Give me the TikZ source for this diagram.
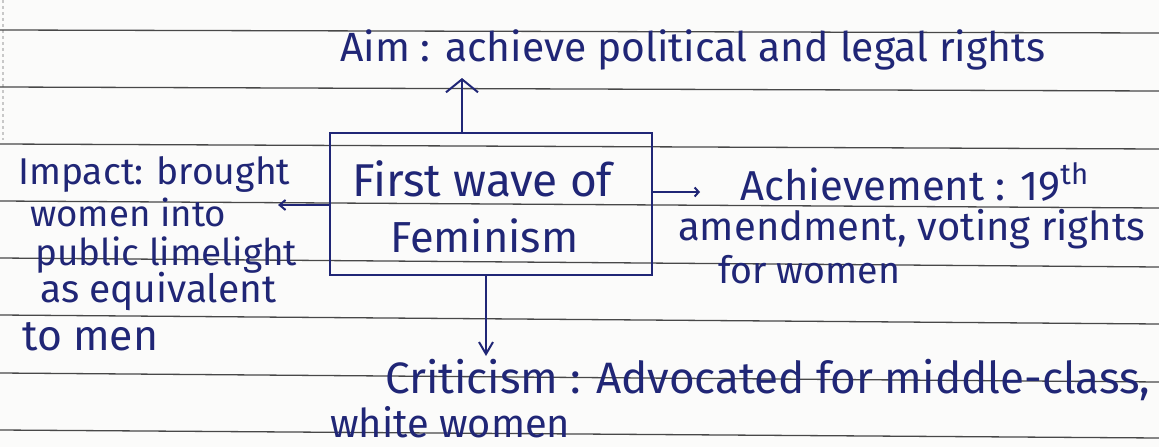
\documentclass[tikz,border=0pt]{standalone}
\usepackage{fontspec}
\usepackage{graphicx}
\setmainfont{Fira Sans}
\usetikzlibrary{arrows.meta}

\definecolor{ink}{RGB}{32,38,118}
\definecolor{rule}{RGB}{72,72,72}
\definecolor{paper}{RGB}{251,251,250}
\definecolor{edge}{RGB}{200,200,200}

% a line of notes stretched to a given width (in pt), keeping its proportions
\newcommand{\hw}[2]{\resizebox{#1pt}{!}{#2}}

\tikzset{
  ruleline/.style={rule, line width=1.3pt},
  note/.style={ink, inner sep=0pt, anchor=base west},
  topicbox/.style={draw=ink, line width=2.6pt, inner sep=0pt,
    minimum width=322pt, minimum height=142pt},
  link/.style={ink, line width=2.2pt},
}

\begin{document}
\begin{tikzpicture}[x=1pt, y=-1pt]
  % page
  \fill[paper] (0,0) rectangle (1159,447);
  \useasboundingbox (0,0) rectangle (1159,447);
  \draw[edge, line width=1.2pt, dash pattern=on 3pt off 3pt] (3,0) -- (3,140);

  % ruled lines of the notebook
  \foreach \l/\r in {30/33, 87/91, 144/149, 201/208, 258/267, 315/324, 373/382, 430/438}
    \draw[ruleline] (0,\l) -- (1159,\r);

  % central topic
  \node[topicbox] (box) at (491,204) {};
  \node[note] (t1) at (352,196) {\hw{260}{First wave of}};
  \node[note] (t2) at (390,252) {\hw{188}{Feminism}};

  % aim (top)
  \node[note] (aim) at (340,61) {\hw{705}{Aim : achieve political and legal rights}};
  \coordinate (aimtip) at (462,78);
  \draw[link, -{Straight Barb[length=13pt, width=32pt, line width=2pt]}]
    (box.north -| aimtip) -- (aimtip);

  % achievement (right)
  \node[note] (ach1) at (740,200) {\hw{350}{Achievement : 19\textsuperscript{th}}};
  \node[note] (ach2) at (678,240) {\hw{467}{amendment, voting rights}};
  \node[note] (ach3) at (718,283) {\hw{182}{for women}};
  \coordinate (achtip) at (700,192);
  \draw[link, -{Straight Barb[length=4pt, width=9pt, line width=2pt]}]
    (box.east |- achtip) -- (achtip);

  % impact (left)
  \node[note] (imp1) at (18,184) {\hw{272}{Impact: brought}};
  \node[note] (imp2) at (30,226) {\hw{196}{women into}};
  \node[note] (imp3) at (35,265) {\hw{262}{public limelight}};
  \node[note] (imp4) at (40,302) {\hw{236}{as equivalent}};
  \node[note] (imp5) at (22,350) {\hw{136}{to men}};
  \coordinate (imptip) at (278,205);
  \draw[link, -{Straight Barb[length=6pt, width=10pt, line width=2pt]}]
    (box.west |- imptip) -- (imptip);

  % criticism (bottom)
  \node[note] (cri1) at (385,393) {\hw{765}{Criticism : Advocated for middle-class,}};
  \node[note] (cri2) at (330,437) {\hw{240}{white women}};
  \coordinate (critip) at (486,356);
  \draw[link, -{Straight Barb[length=12pt, width=14pt, line width=2pt]}]
    (box.south -| critip) -- (critip);
\end{tikzpicture}
\end{document}
